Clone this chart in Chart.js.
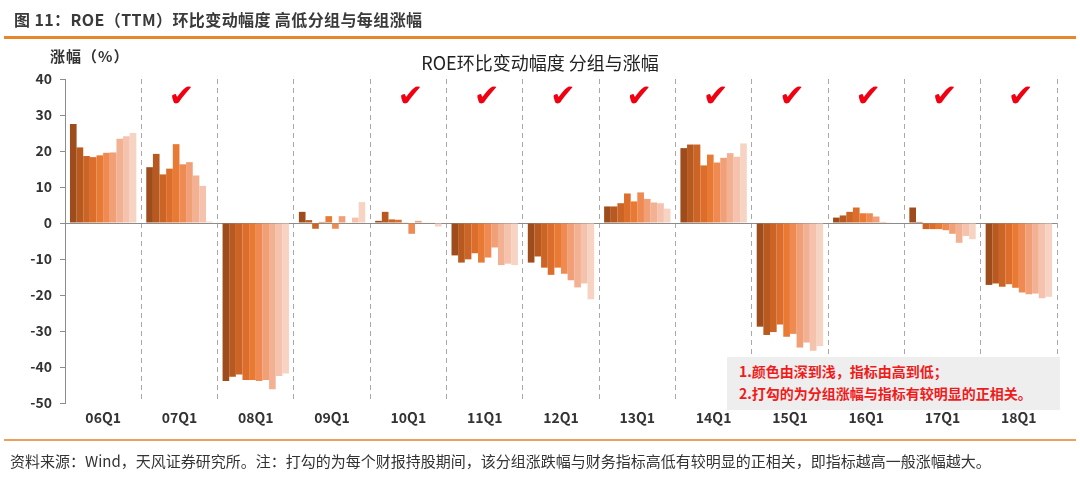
<!DOCTYPE html>
<html>
<head>
<meta charset="utf-8">
<script src="https://cdn.jsdelivr.net/npm/chart.js@4/dist/chart.umd.min.js"></script>
<style>
  body { margin: 0; background: #fff; font-family: "Noto Sans CJK SC", sans-serif; }
  #wrap { position: relative; width: 1080px; height: 477px; overflow: hidden; }
  #chart { position: absolute; left: 0; top: 0; }
  .txt { position: absolute; white-space: nowrap; color: #333; }
  #head { left: 14px; top: 7px; font-size: 16px; font-weight: bold; color: #3a3a3a; letter-spacing: 0.4px; }
  #topline { position: absolute; left: 4px; top: 36px; width: 1072px; height: 3px; background: #e8862c; }
  #botline { position: absolute; left: 4px; top: 439px; width: 1072px; height: 2px; background: #eba05e; }
  #ytitle { left: 50px; top: 45px; font-size: 15px; font-weight: bold; color: #333; letter-spacing: 1px; }
  #ctitle { left: 0; width: 1080px; text-align: center; top: 49px; font-size: 18px; color: #222; }
  #note { position: absolute; left: 727px; top: 357px; width: 333px; height: 53px; background: #eeeeee; }
  #note div { position: absolute; left: 12px; font-size: 14px; font-weight: bold; color: #ee1c1c; white-space: nowrap; }
  #foot { left: 10px; top: 450px; font-size: 15px; color: #333; }
</style>
</head>
<body>
<div id="wrap">
  <canvas id="chart" width="1080" height="477"></canvas>
  <div class="txt" id="head">图 11：ROE（TTM）环比变动幅度 高低分组与每组涨幅</div>
  <div id="topline"></div>
  <div class="txt" id="ytitle">涨幅（%）</div>
  <div class="txt" id="ctitle">ROE环比变动幅度 分组与涨幅</div>
  <div id="note">
    <div style="top:4px">1.颜色由深到浅，指标由高到低；</div>
    <div style="top:26px">2.打勾的为分组涨幅与指标有较明显的正相关。</div>
  </div>
  <div id="botline"></div>
  <div class="txt" id="foot">资料来源：Wind，天风证券研究所。注：打勾的为每个财报持股期间，该分组涨跌幅与财务指标高低有较明显的正相关，即指标越高一般涨幅越大。</div>
</div>
<script>
// quarters
const categories = ['06Q1', '07Q1', '08Q1', '09Q1', '10Q1', '11Q1', '12Q1', '13Q1', '14Q1', '15Q1', '16Q1', '17Q1', '18Q1'];
// which quarters get a tick mark
const checked = [false, true, false, false, true, true, true, true, true, true, true, true, true];

// group 1 (highest ROE change) .. group 10 (lowest), return in %
const group1  = [27.5, 15.5, -43.9,  3.1,  0.6,  -9.0, -11.0, 4.6, 20.8, -28.8, 1.5,  4.3, -17.2];
const group2  = [21.0, 19.2, -42.7,  0.8,  3.1, -11.0,  -9.3, 4.6, 21.8, -31.1, 2.1,  0.3, -16.8];
const group3  = [18.6, 13.5, -42.1, -1.6,  1.0, -10.1, -12.4, 5.5, 21.8, -30.3, 3.1, -1.7, -17.7];
const group4  = [18.3, 15.1, -43.6,  0.3,  0.9,  -8.4, -14.4, 8.2, 16.0, -28.2, 4.3, -1.7, -17.0];
const group5  = [18.8, 21.9, -43.6,  1.9,  0.1, -11.0, -12.4, 6.0, 19.0, -31.6, 2.7, -1.7, -18.0];
const group6  = [19.5, 16.3, -43.9, -1.6, -3.0,  -9.6, -14.1, 8.5, 16.8, -30.8, 2.7, -2.0, -19.3];
const group7  = [19.6, 16.9, -43.6,  1.9,  0.6,  -6.8, -15.9, 6.7, 18.1, -34.6, 1.8, -3.0, -19.8];
const group8  = [23.4, 13.2, -46.2,  0.1,  0.1, -11.7, -17.9, 5.7, 19.4, -33.2, 0.3, -5.5, -19.6];
const group9  = [24.1, 10.3, -42.5,  1.5,  0.1, -11.3, -16.8, 5.5, 18.4, -35.5, 0.1, -3.6, -20.9];
const group10 = [25.0,  0.4, -41.8,  5.8, -1.0, -11.7, -21.2, 4.0, 22.1, -34.2, 0.0, -4.5, -20.5];

const yTicks = [40, 30, 20, 10, 0, -10, -20, -30, -40, -50];

const groups = [group1, group2, group3, group4, group5, group6, group7, group8, group9, group10];
const colors = ['#9e4c1c', '#b8591f', '#cc6425', '#dc6d2a', '#e87a33', '#ee8a52', '#f19f77', '#f3b194', '#f5c3ad', '#f7d3c4'];

const checkPlugin = {
  id: 'checks',
  afterDatasetsDraw(chart) {
    const ctx = chart.ctx;
    const xs = chart.scales.x;
    const top = chart.chartArea.top;
    ctx.save();
    ctx.fillStyle = '#f00010';
    ctx.font = 'bold 31px "DejaVu Sans"';
    ctx.textAlign = 'center';
    ctx.textBaseline = 'middle';
    checked.forEach((c, i) => {
      if (c) ctx.fillText('✔', xs.getPixelForValue(i) + 2, top + 19);
    });
    ctx.restore();
  }
};

new Chart(document.getElementById('chart'), {
  type: 'bar',
  data: {
    labels: categories,
    datasets: groups.map((g, i) => ({
      label: 'G' + (i + 1),
      data: g,
      backgroundColor: colors[i],
      borderWidth: 0,
      barPercentage: 1.0,
      categoryPercentage: 0.87
    }))
  },
  options: {
    responsive: false,
    animation: false,
    devicePixelRatio: 1,
    layout: { padding: { left: 15, right: 23, top: 79, bottom: 44 } },
    plugins: { legend: { display: false }, tooltip: { enabled: false }, title: { display: false } },
    scales: {
      x: {
        afterFit(scale) { scale.height = 30; },
        grid: {
          offset: true,
          drawTicks: false,
          color: (c) => (c.index === 0 || c.index === categories.length) ? 'rgba(0,0,0,0)' : '#a8a8a8',
          lineWidth: 1
        },
        border: { display: false, dash: [5, 4] },
        ticks: {
          color: '#333',
          font: { family: '"Noto Sans CJK SC"', size: 14, weight: 'bold' },
          padding: 6
        }
      },
      y: {
        min: -50,
        max: 40,
        afterFit(scale) { scale.width = 50; },
        afterBuildTicks(scale) { scale.ticks = yTicks.map(v => ({ value: v })); },
        grid: {
          color: (c) => (c.tick && c.tick.value === 0) ? '#8c8c8c' : 'rgba(0,0,0,0)',
          tickColor: '#8c8c8c',
          tickLength: 5,
          lineWidth: 1
        },
        border: { display: true, color: '#8c8c8c', width: 1 },
        ticks: {
          color: '#333',
          font: { family: '"Noto Sans CJK SC"', size: 14, weight: 'bold' },
          padding: 8
        }
      }
    }
  },
  plugins: [checkPlugin]
});
</script>
</body>
</html>
